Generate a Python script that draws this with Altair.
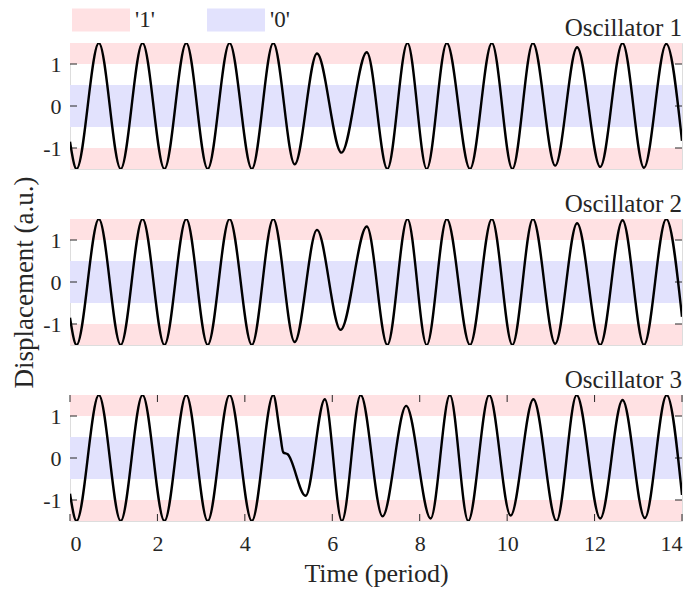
import altair as alt
import pandas as pd

# ---- data ----
t1 = [0, 0.15, 0.66, 1.16, 1.66, 2.16, 2.66, 3.15, 3.65, 4.16, 4.65, 5.14, 5.65, 6.21, 6.79,
      7.26, 7.72, 8.16, 8.62, 9.15, 9.65, 10.12, 10.59, 11.10, 11.60, 12.13, 12.64, 13.13, 13.64, 14.0]
y1 = [-0.85, -1.5, 1.5, -1.5, 1.5, -1.5, 1.5, -1.5, 1.5, -1.5, 1.5, -1.39, 1.25, -1.11, 1.28,
      -1.5, 1.5, -1.5, 1.5, -1.5, 1.5, -1.5, 1.5, -1.42, 1.40, -1.45, 1.5, -1.47, 1.48, -0.83]

t2 = [0, 0.15, 0.66, 1.16, 1.66, 2.16, 2.66, 3.15, 3.65, 4.16, 4.65, 5.14, 5.65, 6.19, 6.79,
      7.26, 7.72, 8.16, 8.62, 9.15, 9.65, 10.12, 10.59, 11.10, 11.60, 12.13, 12.64, 13.13, 13.64, 14.0]
y2 = [-0.85, -1.5, 1.5, -1.5, 1.5, -1.5, 1.5, -1.5, 1.5, -1.5, 1.5, -1.43, 1.24, -1.14, 1.32,
      -1.5, 1.5, -1.5, 1.5, -1.5, 1.5, -1.5, 1.5, -1.47, 1.40, -1.5, 1.47, -1.5, 1.5, -0.83]

t3 = [0, 0.15, 0.66, 1.16, 1.66, 2.16, 2.66, 3.15, 3.65, 4.16, 4.65, 4.80, 4.88, 4.98, 5.39,
      5.83, 6.22, 6.65, 7.15, 7.69, 8.25, 8.69, 9.11, 9.59, 10.08, 10.60, 11.13, 11.59, 12.13,
      12.64, 13.15, 13.65, 14.0]
y3 = [-0.85, -1.5, 1.5, -1.5, 1.5, -1.5, 1.5, -1.5, 1.5, -1.5, 1.5, 0.62, 0.13, 0.09, -0.9,
      1.40, -1.5, 1.5, -1.39, 1.24, -1.44, 1.5, -1.5, 1.5, -1.37, 1.40, -1.5, 1.5, -1.44,
      1.38, -1.43, 1.5, -0.88]

band_lo = [1.0, -1.5, -0.5]
band_hi = [1.5, -1.0, 0.5]
band_state = ["'1'", "'1'", "'0'"]
state_names = ["'1'", "'0'"]
state_colors = ["#FFE1E3", "#E2E2FD"]

titles = ["Oscillator 1", "Oscillator 2", "Oscillator 3"]
y_title = "Displacement (a.u.)"
x_title = "Time (period)"
y_ticks = [-1, 0, 1]
x_ticks = [0, 2, 4, 6, 8, 10, 12, 14]

W, H, GAP = 612, 126, 50
FONT = "Liberation Serif, Times New Roman, Times, serif"
INK = "#262626"

bands_df = pd.DataFrame({"lo": band_lo, "hi": band_hi, "state": band_state})
ytick_df = pd.DataFrame({"v": y_ticks})
xtick_df = pd.DataFrame({"v": x_ticks})

xscale = alt.Scale(domain=[0, 14], nice=False, zero=False)
yscale = alt.Scale(domain=[-1.5, 1.5], nice=False, zero=False)

# wide flat swatch: path spans 5 x 2 units, scaled by sqrt(size)/2 -> ~58 x 23 px
legend = alt.Legend(
    orient="none", legendX=19, legendY=-35, direction="horizontal", title=None,
    symbolType="M-2.5,-1H2.5V1H-2.5Z", symbolSize=538, symbolStrokeWidth=0,
    symbolOpacity=1, labelFont=FONT, labelFontSize=23, labelColor=INK,
    labelOffset=22, columnPadding=52,
)


def panel(t, y, title, bottom, ytitle):
    yaxis_kw = dict(values=y_ticks, ticks=False, domain=False, grid=False,
                    labelFont=FONT, labelFontSize=22, labelColor=INK, labelPadding=9,
                    labelExpr="datum.value")
    if ytitle:
        # centred on the middle panel, attached to the top panel's axis
        yaxis = alt.Axis(title=y_title, titleFont=FONT, titleFontSize=27,
                         titleFontWeight="normal", titleColor=INK, titlePadding=4,
                         titleY=H + GAP + H / 2, **yaxis_kw)
    else:
        yaxis = alt.Axis(title=None, **yaxis_kw)
    bands = alt.Chart(bands_df).mark_rect().encode(
        x=alt.value(0), x2=alt.value(W),
        y=alt.Y("lo:Q", scale=yscale, axis=yaxis),
        y2="hi:Q",
        color=alt.Color("state:N", scale=alt.Scale(domain=state_names, range=state_colors),
                        legend=legend),
    )
    tl = alt.Chart(ytick_df).mark_rule(color=INK, strokeWidth=1).encode(
        y=alt.Y("v:Q", scale=yscale), x=alt.value(0), x2=alt.value(7))
    tr = alt.Chart(ytick_df).mark_rule(color=INK, strokeWidth=1).encode(
        y=alt.Y("v:Q", scale=yscale), x=alt.value(W - 7), x2=alt.value(W))
    if bottom:
        xaxis = alt.Axis(values=x_ticks, ticks=False, domain=False, grid=False,
                         labelFont=FONT, labelFontSize=22, labelColor=INK, labelPadding=12,
                         title=x_title, titleFont=FONT, titleFontSize=26,
                         titleFontWeight="normal", titleColor=INK, titlePadding=6)
    else:
        xaxis = None
    line = alt.Chart(pd.DataFrame({"t": t, "y": y})).mark_line(
        color="black", strokeWidth=2.4, interpolate="monotone", clip=True
    ).encode(
        x=alt.X("t:Q", scale=xscale, axis=xaxis),
        y=alt.Y("y:Q", scale=yscale),
    )
    layers = [bands, tl, tr]
    if bottom:
        tb = alt.Chart(xtick_df).mark_rule(color=INK, strokeWidth=1).encode(
            x=alt.X("v:Q", scale=xscale), y=alt.value(H - 7), y2=alt.value(H))
        tt = alt.Chart(xtick_df).mark_rule(color=INK, strokeWidth=1).encode(
            x=alt.X("v:Q", scale=xscale), y=alt.value(0), y2=alt.value(7))
        layers += [tb, tt]
    layers.append(line)
    return alt.layer(*layers).properties(
        width=W, height=H,
        title=alt.TitleParams(title, anchor="end", fontSize=25, font=FONT, frame="group",
                              fontWeight="normal", color=INK, offset=2),
    )


chart = alt.vconcat(
    panel(t1, y1, titles[0], False, True),
    panel(t2, y2, titles[1], False, False),
    panel(t3, y3, titles[2], True, False),
    spacing=GAP,
    bounds="flush",
).resolve_scale(color="shared").properties(
    padding={"left": 2, "top": 0, "right": 0, "bottom": 0}
).configure_view(stroke=INK, strokeWidth=1).configure(background="white")

chart.save("out.html", embed_options={"renderer": "svg", "actions": False})
